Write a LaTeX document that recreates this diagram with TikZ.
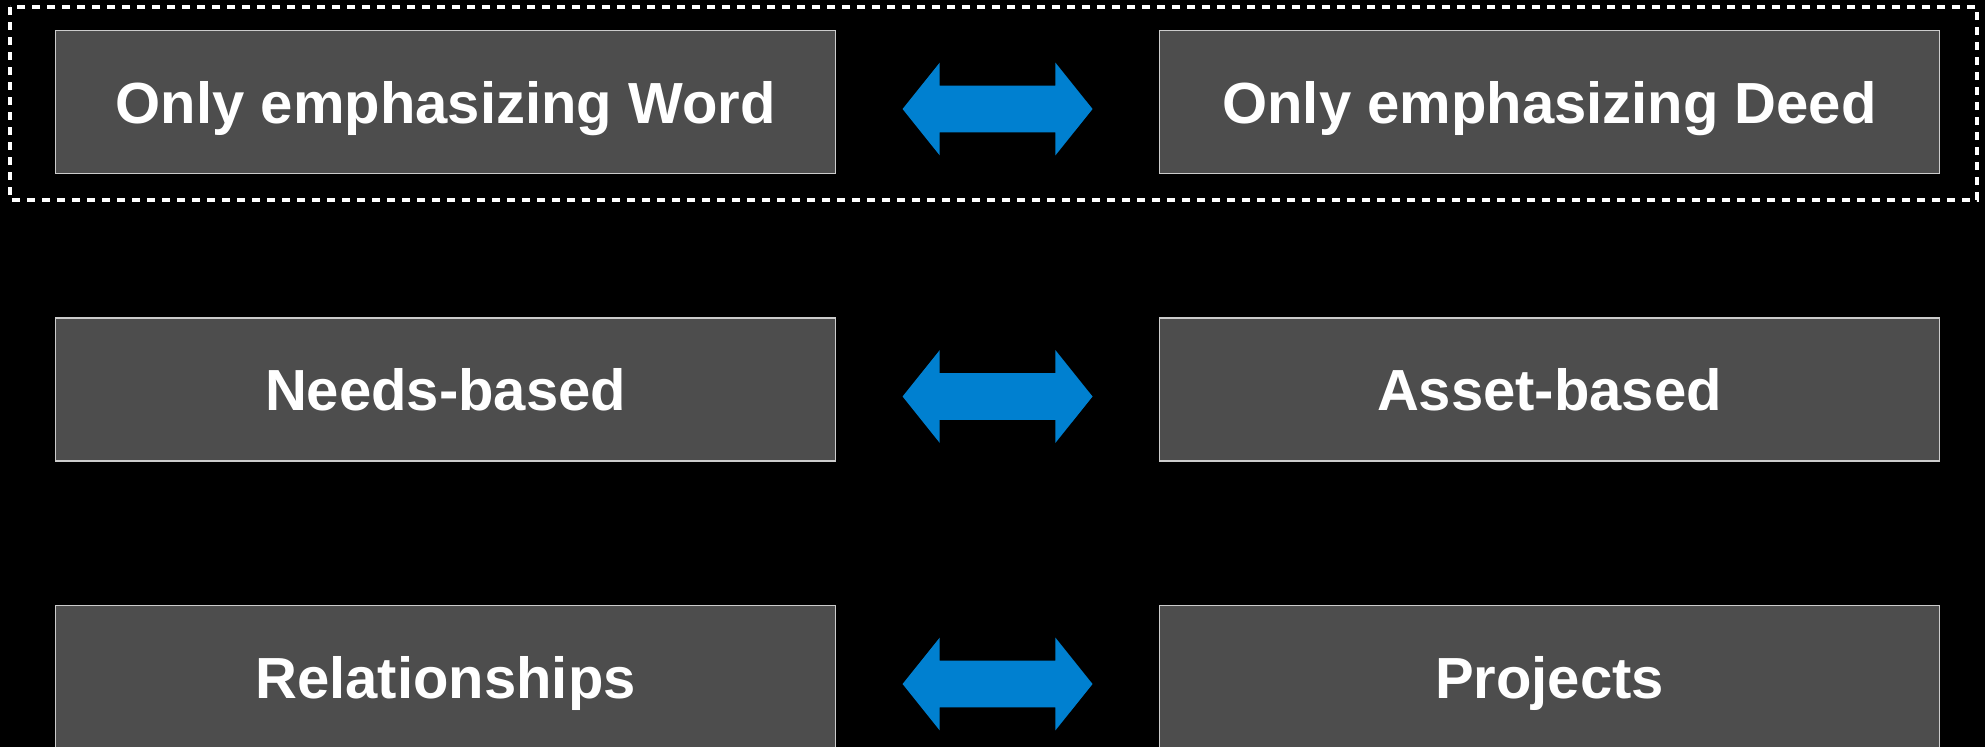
\documentclass[tikz,border=0pt]{standalone}
\usepackage{fontspec}
\setmainfont{Liberation Sans}
\usetikzlibrary{shapes.arrows, calc}

\definecolor{fondgris}{RGB}{77,77,77}
\definecolor{bleufleche}{RGB}{0,128,208}

\begin{document}
\begin{tikzpicture}[x=0.5pt, y=-0.5pt]
        \tikzstyle{boite}=[rectangle, draw=white!80!black, line width=0.6pt, fill=fondgris, minimum width=390pt, minimum height=71.5pt, inner sep=0, text=white, font=\bfseries\fontsize{29}{34}\selectfont, text height=21pt, text depth=0pt];
        \tikzstyle{fleche}=[double arrow, fill=bleufleche, inner xsep=0, inner ysep=11.5pt, minimum height=95pt, minimum width=46pt, double arrow head extend=11.5pt, double arrow tip angle=102.6];

        \useasboundingbox (0,0) rectangle (1985,746);
        \fill[black] (-10,-10) rectangle (1995,756);

        \foreach \gauche/\droite/\j in {Only emphasizing Word/Only emphasizing Deed/0, Needs-based/Asset-based/1, Relationships/Projects/2}{
          \node[boite] (G\j) at (445.6, {102+287.5*\j}) {\gauche};
          \node[boite] (D\j) at (1549.5, {102+287.5*\j}) {\droite};
          \node[fleche, yshift=-3.5pt] (F\j) at ($(G\j.east)!0.5!(D\j.west)$) {};
        }
        % cadre pointille autour de la premiere ligne
        \draw[white, line width=1.6pt, dash pattern=on 4pt off 3.5pt] (10,7) rectangle (1977,200);
    \end{tikzpicture}
\end{document}
